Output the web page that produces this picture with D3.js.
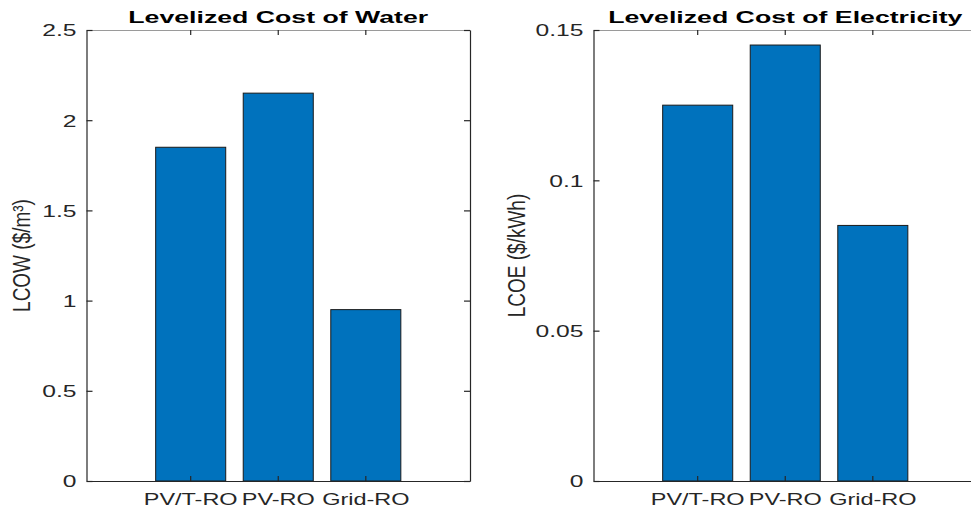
<!DOCTYPE html>
<html>
<head>
<meta charset="utf-8">
<script src="https://cdn.jsdelivr.net/npm/d3@7"></script>
<style>
  body { margin: 0; background: #fff; }
  text { font-family: "Liberation Sans", Arial, Helvetica, sans-serif; }
</style>
</head>
<body>
<svg id="chart" width="971" height="512"></svg>
<script>
// Categories shared by both panels
const categories = ["PV/T-RO", "PV-RO", "Grid-RO"];

// Levelized cost of water ($/m³)
const lcowValues = [1.85, 2.15, 0.95];
const lcowTicks = [0, 0.5, 1, 1.5, 2, 2.5];

// Levelized cost of electricity ($/kWh)
const lcoeValues = [0.125, 0.145, 0.085];
const lcoeTicks = [0, 0.05, 0.1, 0.15];

const svg = d3.select("#chart");

const axisColor = "#262626";
const barColor = "#0072BD";
const TEXT_SX = 1.45;      // horizontal stretch of value tick text
const CAT_SX = 1.38;       // horizontal stretch of category tick text
const TITLE_SX = 1.57;     // horizontal stretch of titles
const LABEL_SY = 1.3;      // glyph-height stretch for rotated axis labels

function drawPanel(opts) {
  const { left, width, top, bottom, values, ticks, title, ylabel, labelX } = opts;
  const g = svg.append("g");

  const y = d3.scaleLinear()
    .domain([ticks[0], ticks[ticks.length - 1]])
    .range([bottom, top]);

  const x = d3.scaleBand()
    .domain(categories)
    .range([left, left + width])
    .paddingInner(0.2)
    .paddingOuter(0.79);

  // Bars
  g.selectAll("rect.bar")
    .data(categories.map((c, i) => ({ c, v: values[i] })))
    .join("rect")
    .attr("class", "bar")
    .attr("x", d => x(d.c))
    .attr("y", d => y(d.v))
    .attr("width", x.bandwidth())
    .attr("height", d => y(0) - y(d.v))
    .attr("fill", barColor)
    .attr("stroke", "#1a1a1a")
    .attr("stroke-width", 1);

  const styleAxis = sel => {
    sel.select(".domain").attr("stroke", axisColor).attr("stroke-width", 1.2);
    sel.selectAll(".tick line").attr("stroke", axisColor).attr("stroke-width", 1.2);
  };

  // Top border with inward category ticks
  const topAxis = g.append("g")
    .attr("transform", `translate(0,${top})`)
    .call(d3.axisTop(x).tickSizeInner(-5).tickSizeOuter(0).tickFormat(""));
  styleAxis(topAxis);
  topAxis.select(".domain").attr("stroke", "#9a9a9a");

  // Right border with inward value ticks
  const rightAxis = g.append("g")
    .attr("transform", `translate(${left + width},0)`)
    .call(d3.axisRight(y).tickValues(ticks).tickSizeInner(-6).tickSizeOuter(0).tickFormat(""));
  styleAxis(rightAxis);

  // Bottom axis with category labels
  const bottomAxis = g.append("g")
    .attr("transform", `translate(0,${bottom})`)
    .call(d3.axisBottom(x).tickSizeInner(-5).tickSizeOuter(0).tickPadding(0));
  styleAxis(bottomAxis);
  bottomAxis.selectAll(".tick text")
    .attr("y", 0).attr("dy", null)
    .attr("transform", `translate(0,23.5) scale(${CAT_SX},1)`)
    .attr("fill", axisColor)
    .style("font-size", "17px");

  // Left axis with value labels
  const leftAxis = g.append("g")
    .attr("transform", `translate(${left},0)`)
    .call(d3.axisLeft(y).tickValues(ticks).tickSizeInner(-6).tickSizeOuter(0)
      .tickFormat(d => String(d)));
  styleAxis(leftAxis);
  leftAxis.selectAll(".tick text")
    .attr("x", 0).attr("dy", "0.35em")
    .attr("transform", `translate(-10,0) scale(${TEXT_SX},1)`)
    .attr("fill", axisColor)
    .style("font-size", "17px");

  // Title
  g.append("text")
    .attr("transform", `translate(${left + width / 2},23) scale(${TITLE_SX},1)`)
    .attr("text-anchor", "middle")
    .attr("font-weight", "bold")
    .attr("fill", "#000")
    .style("font-size", "17px")
    .text(title);

  // Y axis label
  g.append("text")
    .attr("transform", `translate(${labelX},${(top + bottom) / 2}) rotate(-90) scale(1,${LABEL_SY})`)
    .attr("text-anchor", "middle")
    .attr("fill", axisColor)
    .style("font-size", "19px")
    .text(ylabel);
}

drawPanel({
  left: 86.5, width: 383.5, top: 30, bottom: 481,
  values: lcowValues, ticks: lcowTicks,
  title: "Levelized Cost of Water", ylabel: "LCOW ($/m³)", labelX: 30
});

drawPanel({
  left: 593.5, width: 383.5, top: 30, bottom: 481,
  values: lcoeValues, ticks: lcoeTicks,
  title: "Levelized Cost of Electricity", ylabel: "LCOE ($/kWh)", labelX: 525
});
</script>
</body>
</html>
